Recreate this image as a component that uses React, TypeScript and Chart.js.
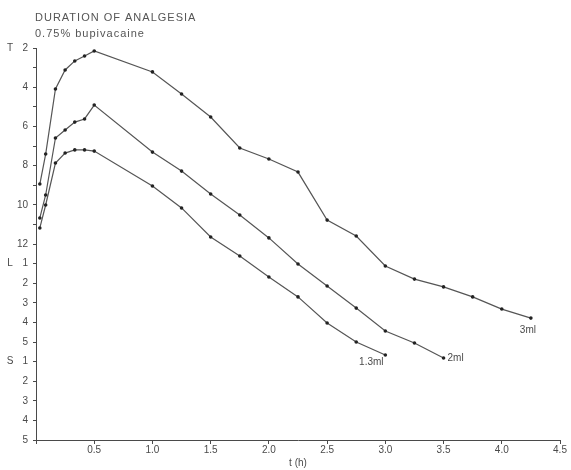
import { useEffect, useRef } from 'react';
import { Chart, registerables } from 'chart.js';

Chart.register(...registerables);

// Segment index: T2 = 0 ... T12 = 10, L1 = 11 ... L5 = 15, S1 = 16 ... S5 = 20
const yTickLabels = ['2', '', '4', '', '6', '', '8', '', '10', '', '12', '1', '2', '3', '4', '5', '1', '2', '3', '4', '5'];
const regionLabels = ['T', 'L', 'S'];
const regionIndex = [0, 11, 16];

const times3ml = [0.033, 0.083, 0.167, 0.25, 0.333, 0.417, 0.5, 1.0, 1.25, 1.5, 1.75, 2.0, 2.25, 2.5, 2.75, 3.0, 3.25, 3.5, 3.75, 4.0, 4.25];
const level3ml = [6.94, 5.41, 2.09, 1.12, 0.66, 0.41, 0.15, 1.22, 2.35, 3.52, 5.1, 5.66, 6.33, 8.78, 9.59, 11.12, 11.79, 12.19, 12.7, 13.32, 13.78];

const times2ml = [0.033, 0.083, 0.167, 0.25, 0.333, 0.417, 0.5, 1.0, 1.25, 1.5, 1.75, 2.0, 2.25, 2.5, 2.75, 3.0, 3.25, 3.5];
const level2ml = [8.67, 7.5, 4.59, 4.18, 3.78, 3.62, 2.91, 5.31, 6.28, 7.45, 8.52, 9.69, 11.02, 12.14, 13.27, 14.44, 15.05, 15.82];

const times13ml = [0.033, 0.083, 0.167, 0.25, 0.333, 0.417, 0.5, 1.0, 1.25, 1.5, 1.75, 2.0, 2.25, 2.5, 2.75, 3.0];
const level13ml = [9.18, 8.01, 5.87, 5.36, 5.2, 5.2, 5.26, 7.04, 8.16, 9.64, 10.61, 11.68, 12.7, 14.03, 15.0, 15.66];

const seriesNames = ['3ml', '2ml', '1.3ml'];
const titleLines = ['DURATION OF ANALGESIA', '0.75% bupivacaine'];

const FONT = '"Liberation Sans", Arial, sans-serif';
const INK = '#4a4a4a';

const toPoints = (xs: number[], ys: number[]) => xs.map((x, i) => ({ x, y: ys[i] }));

const annotate = {
  id: 'annotate',
  afterDraw(chart: any) {
    const { ctx, chartArea, scales } = chart;
    const xs = scales.x;
    const ys = scales.y;
    ctx.save();
    ctx.fillStyle = '#555';
    ctx.font = `11px ${FONT}`;
    ctx.textAlign = 'left';
    ctx.textBaseline = 'alphabetic';
    (ctx as any).letterSpacing = '1px';
    ctx.fillText(titleLines[0], chartArea.left - 1, 21);
    ctx.fillText(titleLines[1], chartArea.left - 1, 37);
    (ctx as any).letterSpacing = '0px';

    ctx.fillStyle = INK;
    ctx.font = `10px ${FONT}`;
    ctx.textAlign = 'center';
    ctx.textBaseline = 'middle';
    regionLabels.forEach((r, i) => {
      ctx.fillText(r, 10, ys.getPixelForValue(regionIndex[i]));
    });

    // series end labels
    const ends = [
      { t: times3ml[times3ml.length - 1], v: level3ml[level3ml.length - 1], dx: -3, dy: 12, align: 'center' },
      { t: times2ml[times2ml.length - 1], v: level2ml[level2ml.length - 1], dx: 4, dy: 0, align: 'left' },
      { t: times13ml[times13ml.length - 1], v: level13ml[level13ml.length - 1], dx: -14, dy: 7, align: 'center' },
    ];
    ends.forEach((e, i) => {
      ctx.textAlign = e.align;
      ctx.fillText(seriesNames[i], xs.getPixelForValue(e.t) + e.dx, ys.getPixelForValue(e.v) + e.dy);
    });
    ctx.restore();
  },
};

export default function App() {
  const ref = useRef<HTMLCanvasElement>(null);
  useEffect(() => {
    if (!ref.current) return;
    const ds = (name: string, xs: number[], ys: number[]) => ({
      label: name,
      data: toPoints(xs, ys),
      borderColor: '#555',
      borderWidth: 1.2,
      pointRadius: 1.8,
      pointBackgroundColor: '#222',
      pointBorderWidth: 0,
      tension: 0,
      fill: false,
    });
    const chart = new Chart(ref.current, {
      type: 'line',
      data: {
        datasets: [
          ds(seriesNames[0], times3ml, level3ml),
          ds(seriesNames[1], times2ml, level2ml),
          ds(seriesNames[2], times13ml, level13ml),
        ],
      },
      options: {
        responsive: false,
        animation: false,
        devicePixelRatio: 1,
        layout: { padding: { top: 48, right: 11, left: 0, bottom: 0 } },
        plugins: { legend: { display: false }, tooltip: { enabled: false }, title: { display: false } },
        scales: {
          x: {
            type: 'linear',
            min: 0,
            max: 4.5,
            afterFit: (s: any) => { s.height = 30; },
            ticks: {
              stepSize: 0.5,
              autoSkip: false,
              maxRotation: 0,
              padding: 0,
              color: INK,
              font: { size: 10, family: FONT },
              callback: (v: any) => (v === 0 ? '' : Number(v).toFixed(1)),
            },
            grid: { drawOnChartArea: false, drawTicks: true, tickLength: 4, color: INK },
            border: { display: true, color: INK, width: 1 },
            title: { display: true, text: 't (h)', color: INK, font: { size: 10, family: FONT }, padding: { top: 0, bottom: 1 } },
          },
          y: {
            type: 'linear',
            min: 0,
            max: 20,
            reverse: true,
            afterFit: (s: any) => { s.width = 36; },
            ticks: {
              stepSize: 1,
              autoSkip: false,
              padding: 5,
              color: INK,
              font: { size: 10, family: FONT },
              callback: (v: any) => yTickLabels[Math.round(Number(v))] ?? '',
            },
            grid: { drawOnChartArea: false, drawTicks: true, tickLength: 3, color: INK },
            border: { display: true, color: INK, width: 1 },
          },
        },
      },
      plugins: [annotate],
    } as any);
    return () => chart.destroy();
  }, []);
  return (
    <div style={{ position: 'fixed', left: 0, top: 0, width: 571, height: 470, background: '#fff' }}>
      <canvas ref={ref} width={571} height={470} />
    </div>
  );
}
